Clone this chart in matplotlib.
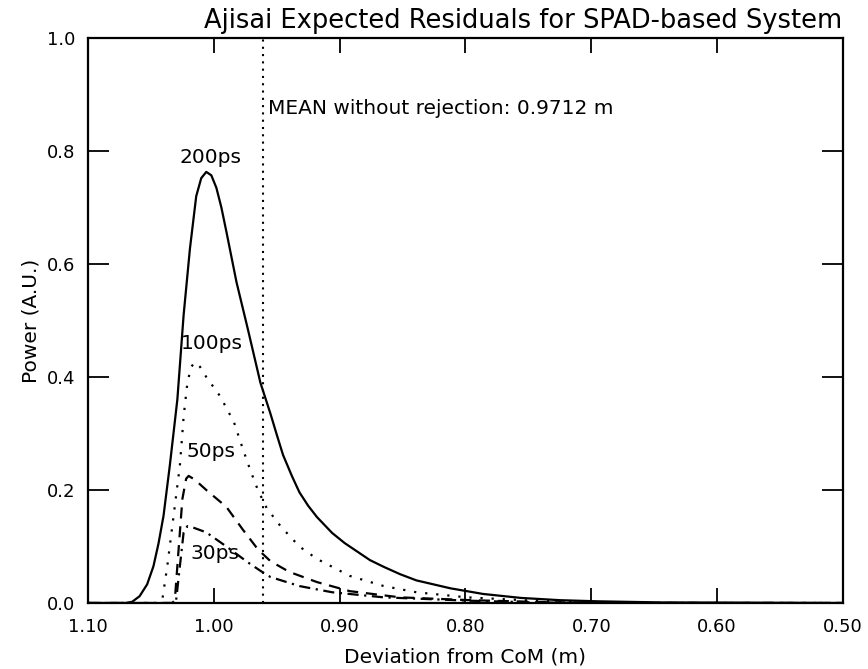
import matplotlib
matplotlib.use("Agg")
import matplotlib.pyplot as plt

# 200 ps (solid)
x200 = [1.100, 1.070, 1.065, 1.059, 1.053, 1.048, 1.044, 1.040, 1.035, 1.029, 1.024, 1.019, 1.014, 1.010, 1.006,
        1.002, 0.998, 0.994, 0.990, 0.982, 0.973, 0.963, 0.955, 0.950, 0.945, 0.938, 0.932, 0.925, 0.918,
        0.906, 0.896, 0.886, 0.876, 0.865, 0.852, 0.839, 0.812, 0.786, 0.756, 0.725, 0.695, 0.644, 0.500]
y200 = [0.000, 0.000, 0.002, 0.012, 0.033, 0.065, 0.105, 0.154, 0.243, 0.360, 0.510, 0.627, 0.720, 0.752, 0.763,
        0.757, 0.735, 0.700, 0.657, 0.568, 0.485, 0.390, 0.335, 0.298, 0.262, 0.225, 0.196, 0.172, 0.152,
        0.124, 0.106, 0.091, 0.076, 0.064, 0.051, 0.040, 0.026, 0.016, 0.009, 0.005, 0.003, 0.001, 0.000]

# 100 ps (dotted)
x100 = [1.100, 1.044, 1.041, 1.037, 1.032, 1.027, 1.024, 1.021, 1.018, 1.015, 1.011, 1.006, 0.995,
        0.984, 0.977, 0.971, 0.965, 0.958, 0.947, 0.932, 0.918, 0.892, 0.865, 0.839, 0.799, 0.745,
        0.695, 0.644, 0.500]
y100 = [0.000, 0.000, 0.005, 0.065, 0.154, 0.243, 0.330, 0.390, 0.418, 0.426, 0.418, 0.400, 0.366,
        0.320, 0.273, 0.235, 0.200, 0.168, 0.136, 0.100, 0.078, 0.048, 0.030, 0.019, 0.010, 0.004,
        0.001, 0.000, 0.000]

# 50 ps (dashed)
x50 = [1.100, 1.033, 1.031, 1.028, 1.025, 1.022, 1.020, 1.015, 1.006, 0.990, 0.977, 0.965, 0.955,
       0.940, 0.918, 0.892, 0.852, 0.796, 0.745, 0.695, 0.500]
y50 = [0.000, 0.000, 0.005, 0.095, 0.184, 0.220, 0.225, 0.218, 0.200, 0.170, 0.130, 0.095, 0.074,
       0.055, 0.037, 0.021, 0.010, 0.005, 0.002, 0.000, 0.000]

# 30 ps (dash-dot)
x30 = [1.100, 1.032, 1.030, 1.027, 1.024, 1.021, 1.017, 1.006, 0.990, 0.973, 0.963, 0.955, 0.932,
       0.906, 0.865, 0.796, 0.745, 0.695, 0.500]
y30 = [0.000, 0.000, 0.004, 0.065, 0.125, 0.136, 0.134, 0.125, 0.100, 0.072, 0.057, 0.046, 0.030,
       0.019, 0.010, 0.004, 0.001, 0.000, 0.000]

mean_x = 0.961
labels = ["200ps", "100ps", "50ps", "30ps"]
label_pos = [(1.003, 0.788), (1.002, 0.460), (1.002, 0.269), (0.999, 0.088)]

xticks = [1.10, 1.00, 0.90, 0.80, 0.70, 0.60, 0.50]
yticks = [0.0, 0.2, 0.4, 0.6, 0.8, 1.0]

plt.rcParams['font.family'] = ['DejaVu Sans']
fig = plt.figure(figsize=(8.68, 6.69), dpi=100)
ax = fig.add_axes([88/868, 66/669, 755/868, 565/669])

lw = 1.6
ax.plot(x200, y200, color='black', lw=lw, ls='-')
ax.plot(x100, y100, color='black', lw=lw, ls=(0, (1, 4)))
ax.plot(x50, y50, color='black', lw=lw, ls=(0, (5, 3.5)))
ax.plot(x30, y30, color='black', lw=lw, ls=(0, (5, 2.5, 1, 2.5)))
ax.plot([mean_x, mean_x], [0, 1.0], color='black', lw=1.5, ls=(0, (1, 2.5)))

for lab, (lx, ly) in zip(labels, label_pos):
    ax.text(lx, ly, lab, ha='center', va='center', fontsize=14.5)

ax.text(0.957, 0.875, "MEAN without rejection: 0.9712 m", ha='left', va='center', fontsize=14.5)

ax.set_xlim(1.10, 0.50)
ax.set_ylim(0.0, 1.0)
ax.set_xticks(xticks)
ax.set_xticklabels([f"{v:.2f}" for v in xticks])
ax.set_yticks(yticks)
ax.set_yticklabels([f"{v:.1f}" for v in yticks])
ax.tick_params(axis='x', direction='in', length=11, width=1.3, top=True, labelsize=13, pad=11)
ax.tick_params(axis='y', direction='in', length=15, width=1.3, right=True, labelsize=13, pad=9)
for s in ax.spines.values():
    s.set_linewidth(1.6)

ax.set_xlabel("Deviation from CoM (m)", fontsize=14.5, labelpad=8)
ax.set_ylabel("Power (A.U.)", fontsize=14.5, labelpad=5)
fig.text(523/868, 1 - 21/669, "Ajisai Expected Residuals for SPAD-based System",
         ha='center', va='center', fontsize=18.5)

fig.savefig("out.png", dpi=100)
